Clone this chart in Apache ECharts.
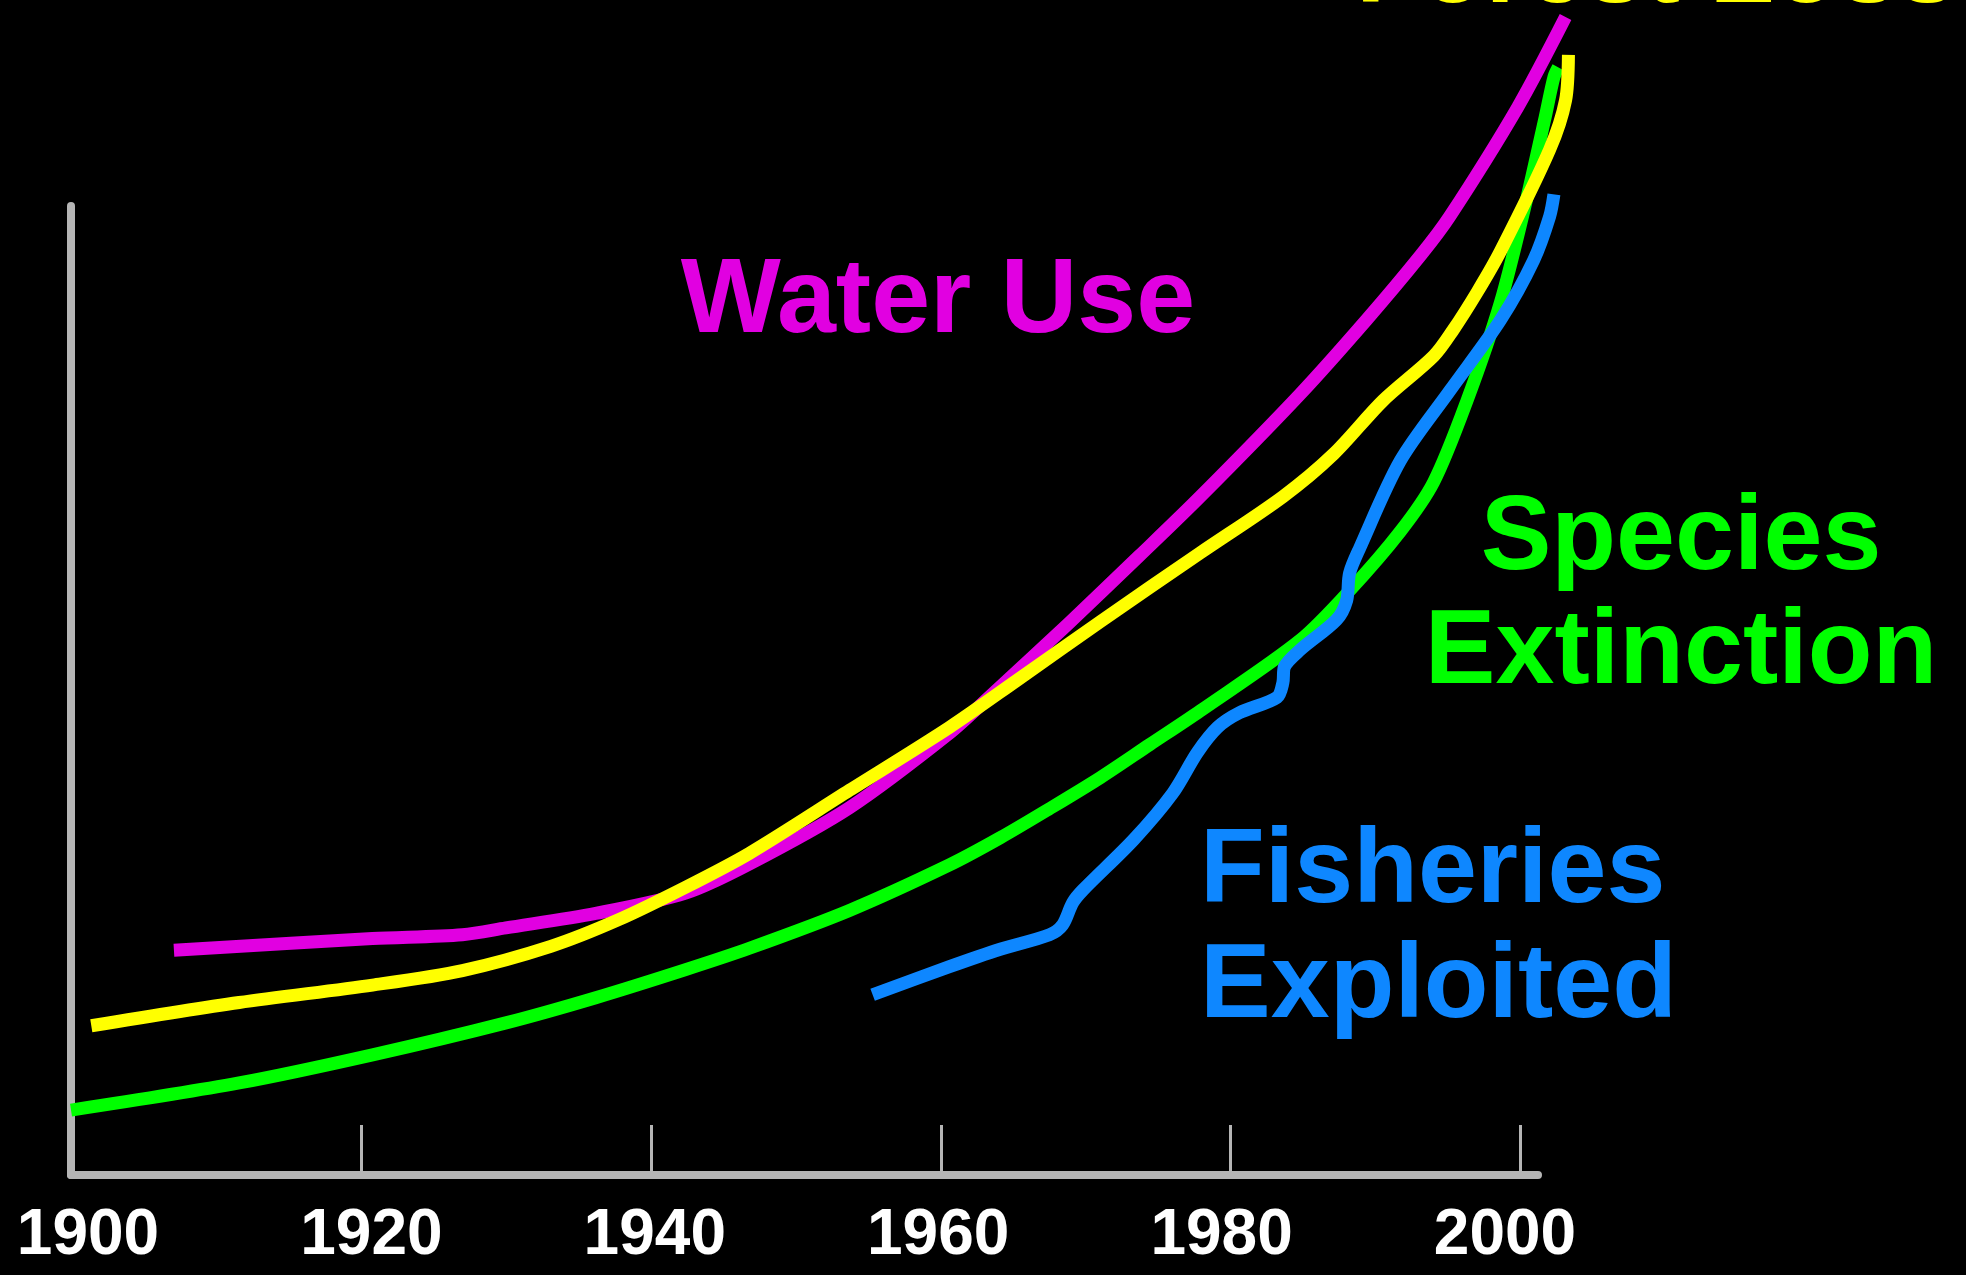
<!DOCTYPE html>
<html>
<head>
<meta charset="utf-8">
<title>Global trends 1900–2000</title>
<script src="https://cdn.jsdelivr.net/npm/echarts@6/dist/echarts.min.js"></script>
<style>
  html, body { margin: 0; padding: 0; background: #000; }
  #chart { width: 1966px; height: 1275px; }
</style>
</head>
<body>
<div id="chart"></div>
<script>
// Relative index (0 = axis baseline, 100 = top of the vertical axis) against year.
const waterUse = [
  [1907.1, 23.2], [1920.8, 24.4], [1927.0, 24.8], [1930.0, 25.5], [1936.2, 27.0],
  [1942.4, 29.1], [1946.8, 32.1], [1953.7, 37.9], [1960.6, 45.6], [1963.4, 49.4],
  [1968.8, 56.9], [1973.7, 63.9], [1977.9, 70.0], [1984.8, 80.6], [1989.4, 88.3],
  [1993.1, 94.9], [1995.1, 98.9], [1999.8, 110.2], [2003.1, 119.5]
];
const speciesExtinction = [
  [1900.0, 6.7], [1911.6, 9.5], [1920.8, 12.4], [1930.0, 15.7], [1936.2, 18.3],
  [1942.4, 21.2], [1946.8, 23.4], [1953.7, 27.3], [1960.6, 32.0], [1964.1, 34.8],
  [1967.5, 37.8], [1971.0, 41.0], [1974.4, 44.4], [1977.9, 47.9], [1984.8, 55.2],
  [1988.2, 60.3], [1991.7, 66.4], [1994.0, 71.5], [1996.3, 79.9], [1998.6, 90.0],
  [2000.4, 100.6], [2001.7, 109.2], [2002.3, 113.3], [2002.6, 114.3]
];
const forestLoss = [
  [1901.4, 15.4], [1911.6, 17.8], [1920.8, 19.6], [1927.0, 21.1], [1933.1, 23.6],
  [1937.7, 26.3], [1942.4, 29.7], [1946.8, 33.2], [1953.7, 39.7], [1960.6, 46.2],
  [1965.3, 51.1], [1971.0, 57.1], [1977.9, 64.2], [1983.6, 70.0], [1987.1, 74.4],
  [1990.5, 79.9], [1994.0, 84.5], [1995.3, 87.1], [1997.0, 91.1], [1998.6, 95.3],
  [2002.0, 105.8], [2003.1, 110.9], [2003.3, 115.6]
];
const fisheriesExploited = [
  [1955.3, 18.6], [1960.6, 21.5], [1964.1, 23.3], [1967.5, 24.8], [1968.4, 25.8],
  [1969.1, 28.1], [1969.8, 29.4], [1973.3, 34.6], [1976.0, 39.4], [1977.7, 43.6],
  [1979.1, 46.2], [1980.6, 47.7], [1983.2, 49.3], [1983.6, 50.8], [1983.7, 52.4],
  [1984.8, 54.2], [1987.3, 57.3], [1988.0, 59.3], [1988.2, 62.1], [1988.9, 64.7],
  [1991.7, 73.7], [1995.1, 80.9], [1998.6, 88.2], [2000.9, 94.4], [2002.0, 98.9],
  [2002.3, 101.2]
];
const tickYears = [1920, 1940, 1960, 1980, 2000];

const FONT = '"Liberation Sans", Arial, Helvetica, sans-serif';
const AXIS_GREY = '#b5b5b5';
const COLORS = {
  water: '#e100e1',
  species: '#00ff00',
  forest: '#ffff00',
  fisheries: '#0e87ff'
};

// Shared scale: 1900 sits on the vertical axis, index 0 on the horizontal one.
const PLOT_LEFT = 71;
const PLOT_BOTTOM = 100;       // distance from the canvas bottom
const PX_PER_YEAR = 14.496;
const PX_PER_UNIT = 9.69;
const FRAME_MAX_YEAR = 2001.2; // where the horizontal axis line stops
const DATA_MAX_YEAR = 2004;    // curves run a little past the axis
const DATA_MAX_VALUE = 120;

function lineSeries(name, data, color) {
  return {
    name: name,
    type: 'line',
    data: data,
    xAxisIndex: 2,
    yAxisIndex: 2,
    smooth: 0.3,
    showSymbol: false,
    lineStyle: { color: color, width: 13, cap: 'butt', join: 'round' }
  };
}

const frameWidth = (FRAME_MAX_YEAR - 1900) * PX_PER_YEAR;
const dataWidth = (DATA_MAX_YEAR - 1900) * PX_PER_YEAR;
const frameHeight = 100 * PX_PER_UNIT;
const dataHeight = DATA_MAX_VALUE * PX_PER_UNIT;

const chart = echarts.init(document.getElementById('chart'), null, { renderer: 'canvas' });

chart.setOption({
  backgroundColor: '#000000',
  animation: false,
  grid: [
    // axis frame
    { left: PLOT_LEFT, width: frameWidth, bottom: PLOT_BOTTOM, height: frameHeight },
    // year labels
    { left: 88, width: 1417, bottom: PLOT_BOTTOM, height: frameHeight },
    // curves
    { left: PLOT_LEFT, width: dataWidth, bottom: PLOT_BOTTOM, height: dataHeight }
  ],
  xAxis: [
    {
      gridIndex: 0,
      type: 'value',
      min: 1900,
      max: FRAME_MAX_YEAR,
      axisLine: { show: true, lineStyle: { color: AXIS_GREY, width: 8 } },
      axisTick: {
        show: true,
        inside: true,
        length: 50,
        customValues: tickYears,
        lineStyle: { color: AXIS_GREY, width: 3 }
      },
      axisLabel: { show: false },
      splitLine: { show: false }
    },
    {
      gridIndex: 1,
      type: 'value',
      min: 1900,
      max: 2000,
      interval: 20,
      axisLine: { show: false },
      axisTick: { show: false },
      splitLine: { show: false },
      axisLabel: {
        show: true,
        showMinLabel: true,
        showMaxLabel: true,
        margin: 29,
        color: '#ffffff',
        fontFamily: FONT,
        fontWeight: 'bold',
        fontSize: 64,
        formatter: function (v) { return String(v); }
      }
    },
    { gridIndex: 2, type: 'value', min: 1900, max: DATA_MAX_YEAR, show: false }
  ],
  yAxis: [
    {
      gridIndex: 0,
      type: 'value',
      min: 0,
      max: 100,
      axisLine: { show: true, lineStyle: { color: AXIS_GREY, width: 8 } },
      axisTick: { show: false },
      axisLabel: { show: false },
      splitLine: { show: false }
    },
    { gridIndex: 1, type: 'value', min: 0, max: 100, show: false },
    { gridIndex: 2, type: 'value', min: 0, max: DATA_MAX_VALUE, show: false }
  ],
  series: [
    lineSeries('Water Use', waterUse, COLORS.water),
    lineSeries('Species Extinction', speciesExtinction, COLORS.species),
    lineSeries('Forest Loss', forestLoss, COLORS.forest),
    lineSeries('Fisheries Exploited', fisheriesExploited, COLORS.fisheries)
  ],
  graphic: [
    {
      type: 'text', x: 1356, y: -80,
      style: { text: 'Forest Loss', fill: COLORS.forest, font: 'bold 106px ' + FONT, align: 'left', verticalAlign: 'top' }
    },
    {
      type: 'text', x: 938, y: 250,
      style: { text: 'Water Use', fill: COLORS.water, font: 'bold 106px ' + FONT, align: 'center', verticalAlign: 'top' }
    },
    {
      type: 'text', x: 1681, y: 483,
      style: { text: 'Species\nExtinction', fill: COLORS.species, font: 'bold 106px ' + FONT, lineHeight: 114, align: 'center', verticalAlign: 'top' }
    },
    {
      type: 'text', x: 1200, y: 815,
      style: { text: 'Fisheries\nExploited', fill: COLORS.fisheries, font: 'bold 106px ' + FONT, lineHeight: 115, align: 'left', verticalAlign: 'top' }
    }
  ]
});
</script>
</body>
</html>
